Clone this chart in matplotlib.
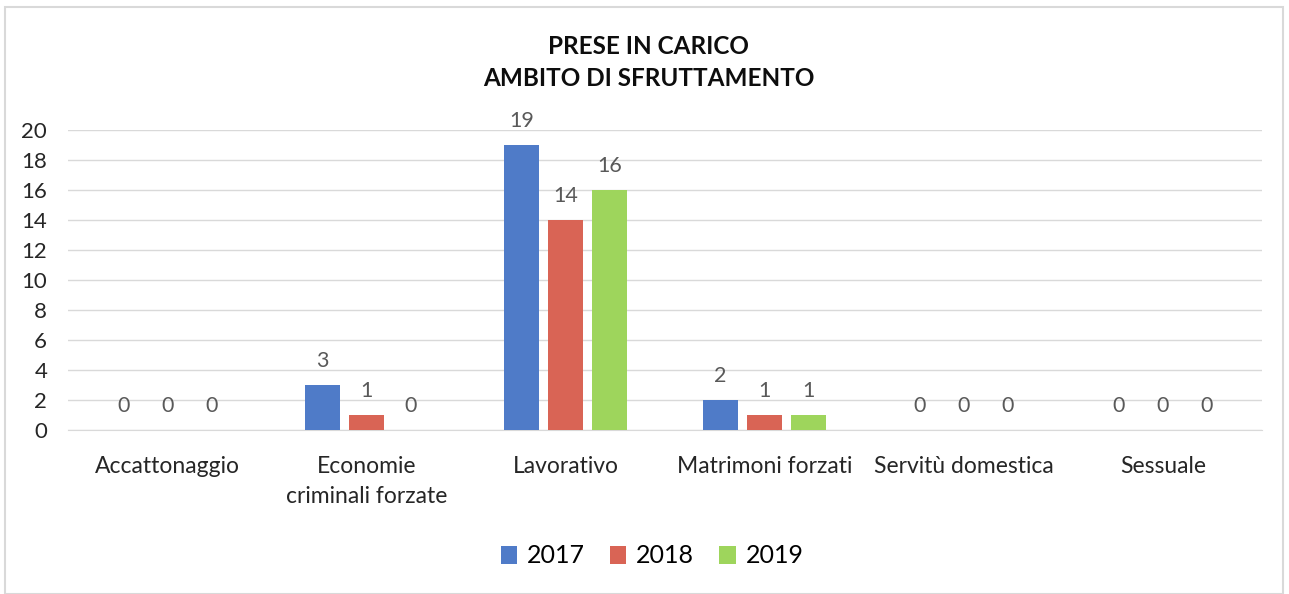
import numpy as np
import matplotlib.pyplot as plt
from matplotlib.patches import Rectangle

plt.rcParams['font.family'] = ['Lato', 'DejaVu Sans']

categories = ['Accattonaggio', 'Economie\ncriminali forzate', 'Lavorativo',
              'Matrimoni forzati', 'Servitù domestica', 'Sessuale']
years = ['2017', '2018', '2019']
v2017 = [0, 3, 19, 2, 0, 0]
v2018 = [0, 1, 14, 1, 0, 0]
v2019 = [0, 0, 16, 1, 0, 0]
colors = ['#4f7bc8', '#d96455', '#9ed55c']


def plot_chart():
    fig = plt.figure(figsize=(12.89, 5.94), dpi=100)
    fig.patches.append(Rectangle((5 / 1289, 0.0), 1278 / 1289, 1 - 7 / 594,
                                 transform=fig.transFigure, fill=False,
                                 edgecolor='#d9d9d9', linewidth=1.5))
    ax = fig.add_axes([0.0528, 0.276, 0.9265, 0.505])

    x = np.arange(len(categories))
    width = 0.176
    offset = 0.222
    for i, (vals, year) in enumerate(zip([v2017, v2018, v2019], years)):
        bars = ax.bar(x + (i - 1) * offset, vals, width, color=colors[i],
                      label=year, zorder=3)
        ax.bar_label(bars, padding=10, fontsize=15.5, color='#595959')

    ax.set_xlim(-0.5, len(categories) - 0.5)
    ax.set_ylim(0, 20)
    ax.set_yticks(range(0, 21, 2))
    ax.yaxis.grid(True, color='#d9d9d9', linewidth=1, zorder=0)
    ax.set_xticks(x)
    ax.set_xticklabels(categories, fontsize=16.5, color='#262626',
                       linespacing=1.5)
    ax.tick_params(axis='y', length=0, labelsize=16, colors='#262626', pad=15)
    ax.tick_params(axis='x', length=0, colors='#262626', pad=19)
    for s in ['top', 'right', 'left']:
        ax.spines[s].set_visible(False)
    ax.spines['bottom'].set_color('#d9d9d9')

    fig.text(0.503, 0.895, 'PRESE IN CARICO\nAMBITO DI SFRUTTAMENTO',
             ha='center', va='center', fontsize=17.5, fontweight='bold',
             color='#0d0d0d', linespacing=1.45)
    fig.legend(loc='center', bbox_to_anchor=(0.506, 0.064), ncol=3,
               frameon=False, fontsize=18, handlelength=0.65, handleheight=0.75,
               handletextpad=0.4, columnspacing=1.0)
    fig.savefig('out.png', dpi=100)


if __name__ == '__main__':
    plot_chart()
